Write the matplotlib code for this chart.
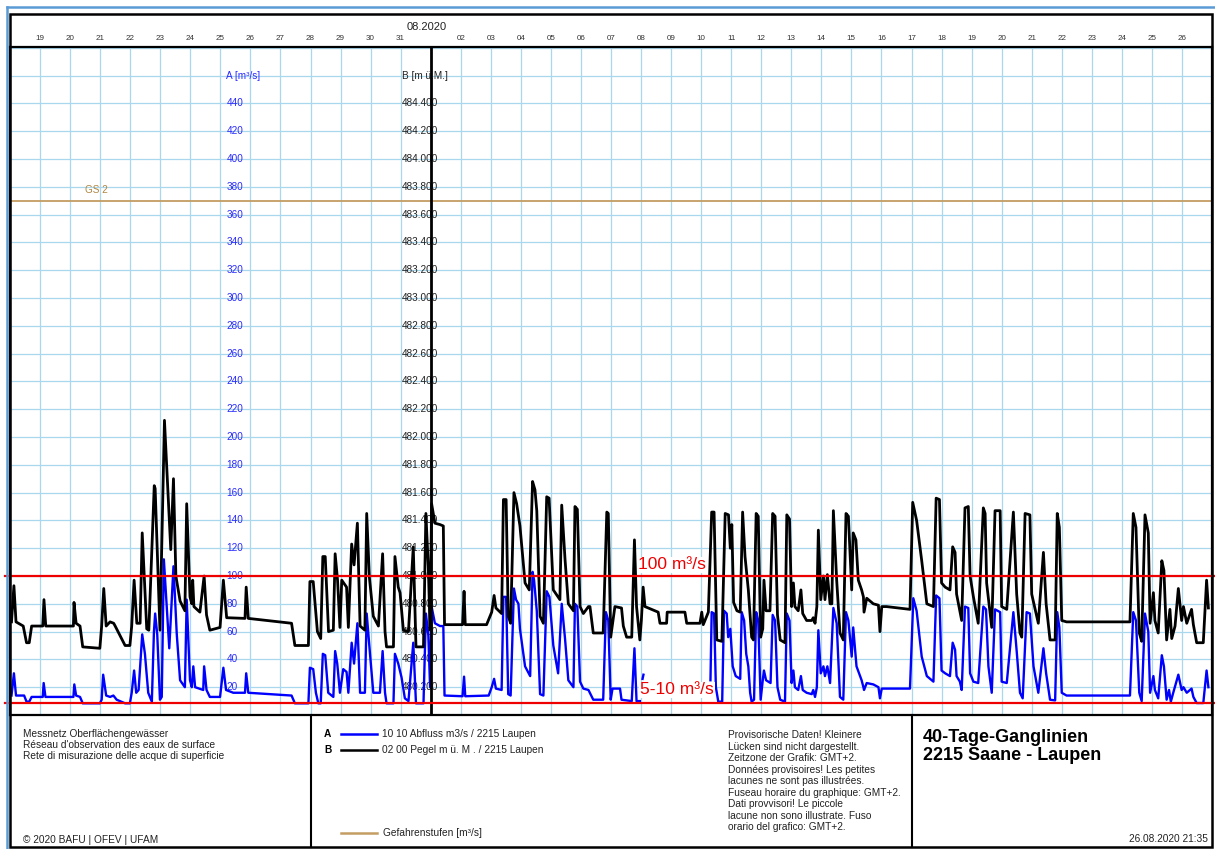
import matplotlib
matplotlib.use("Agg")
import matplotlib.pyplot as plt
import numpy as np
from matplotlib.lines import Line2D
from matplotlib.patches import Rectangle

plt.rcParams['font.family'] = ['Liberation Sans', 'DejaVu Sans']

# ---- data (time in days since 18.07.2020 00:00) ----
# A: Abfluss m3/s (blue)
a_day = [0.05, 0.13, 0.20, 0.47, 0.55, 0.64, 0.72, 1.09, 1.12, 1.18, 2.11, 2.14, 2.20, 2.33, 2.42,
         2.99, 3.05, 3.10, 3.20, 3.33, 3.44, 3.55, 3.83, 3.99, 4.05, 4.13, 4.20, 4.28, 4.40, 4.49,
         4.60, 4.72, 4.79, 4.83, 4.90, 4.99, 5.05, 5.12, 5.30, 5.44, 5.55, 5.66, 5.82, 5.88, 5.99,
         6.05, 6.10, 6.16, 6.43, 6.46, 6.54, 6.65, 6.99, 7.10, 7.19, 7.43, 7.82, 7.86, 7.93, 9.37,
         9.48, 9.93, 9.98, 10.09, 10.18, 10.26, 10.34, 10.41, 10.49, 10.59, 10.76, 10.82, 10.89,
         10.98, 11.09, 11.20, 11.26, 11.37, 11.45, 11.56, 11.65, 11.81, 11.87, 11.98, 12.09, 12.31,
         12.40, 12.48, 12.53, 12.76, 12.81, 12.92, 13.03, 13.14, 13.26, 13.42, 13.51, 13.76, 13.84,
         13.92, 13.98, 14.03, 14.14, 14.31, 14.42, 14.46, 15.06, 15.11, 15.15, 15.93, 16.03, 16.11,
         16.17, 16.36, 16.42, 16.51, 16.58, 16.66, 16.77, 16.84, 16.92, 16.97, 17.14, 17.31, 17.39,
         17.44, 17.53, 17.64, 17.75, 17.86, 17.95, 18.08, 18.24, 18.36, 18.47, 18.58, 18.75, 18.80,
         18.88, 18.97, 19.08, 19.25, 19.41, 19.74, 19.83, 19.91, 19.99, 20.05, 20.30, 20.35, 20.69,
         20.78, 20.85, 20.96, 21.00, 21.05, 21.08, 21.10,
         23.31, 23.35, 23.43, 23.49, 23.57, 23.70, 23.76, 23.85, 23.90, 23.97, 24.05, 24.15, 24.30,
         24.35, 24.43, 24.50, 24.57, 24.63, 24.68, 24.76, 24.83, 24.90, 24.98, 25.05, 25.09, 25.16,
         25.31, 25.38, 25.46, 25.54, 25.63, 25.79, 25.85, 25.94, 26.01, 26.07, 26.12, 26.23, 26.32,
         26.38, 26.51, 26.68, 26.73, 26.79, 26.85, 26.90, 26.98, 27.07, 27.12, 27.20, 27.29, 27.40,
         27.51, 27.62, 27.73, 27.82, 27.90, 28.01, 28.06, 28.17, 28.34, 28.40, 28.42, 28.51, 28.73,
         28.90, 28.95, 29.01, 29.17, 29.95, 30.06, 30.17, 30.34, 30.51, 30.73, 30.82, 30.93, 31.00,
         31.12, 31.28, 31.37, 31.45, 31.50, 31.61, 31.67, 31.78, 31.89, 31.95, 32.06, 32.22, 32.39,
         32.48, 32.56, 32.67, 32.78, 32.95, 33.00, 33.17, 33.39, 33.50, 33.61, 33.70, 33.83, 33.94,
         34.06, 34.22, 34.39, 34.48, 34.61, 34.78, 34.85, 34.92, 35.00, 35.16, 37.27, 37.38, 37.47,
         37.58, 37.66, 37.77, 37.88, 37.94, 38.05, 38.10, 38.21, 38.33, 38.40, 38.49, 38.57, 38.63,
         38.71, 38.88, 38.99, 39.05, 39.16, 39.32, 39.38, 39.49, 39.71, 39.82, 39.88]
a_flow = [14, 30, 14, 14, 9.6, 9.6, 13, 13, 23, 13, 13, 22, 14, 13, 8.4,
          8.4, 11, 29, 14, 13, 14, 11, 8.4, 8.4, 16, 32, 16, 18, 58, 44,
          16, 9.6, 60, 73, 58, 11, 13, 112, 48, 107, 58, 25, 20, 83, 25,
          20, 35, 20, 18, 35, 18, 13, 13, 34, 18, 16, 16, 30, 16, 14,
          8.4, 8.4, 34, 33, 16, 8.4, 8.4, 44, 43, 16, 13, 46, 37,
          16, 33, 31, 16, 52, 37, 66, 16, 16, 73, 44, 16, 16,
          46, 16, 8.4, 8.4, 44, 37, 27, 12, 10, 52, 8.4, 8.4, 73,
          58, 20, 78, 66, 64, 64, 14, 13.5, 27.6, 13.5, 14, 20, 26,
          19, 18, 85, 85, 15, 14, 91, 83, 80, 62, 35, 28, 103,
          97, 75, 15, 14, 89, 85, 50, 30, 80, 55, 25, 20, 80,
          78, 24, 19, 18, 11, 11, 74, 68, 11, 19, 19, 11, 10,
          48, 10, 10, np.nan, 26, 29, np.nan,
          25, 74, 73, 20, 9.6, 9.6, 75, 73, 56, 62, 35, 28, 26,
          74, 68, 44, 35, 16, 9.6, 11, 74, 68, 11, 25, 32, 25,
          23, 72, 68, 20, 11, 9.6, 73, 68, 23, 32, 20, 18, 28,
          18, 16, 15, 18, 13, 20, 61, 30, 35, 28, 35, 23, 77,
          66, 13, 11, 74, 68, 42, 63, 35, 25, 20, 18, 23, 22,
          20, 12, 19, 19, 19, 84, 75, 42, 28, 24, 86, 84, 32,
          30, 28, 52, 47, 28, 24, 18, 78, 77, 30, 24, 23, 78,
          76, 35, 16, 76, 74, 24, 23, 74, 46, 16, 12, 74, 73,
          35, 16, 48, 30, 11, 10.5, 74, 63, 16, 14, 14, 74, 68,
          16, 10, 73, 60, 16, 28, 18, 12, 43, 35, 11, 18, 9.6,
          16, 29, 18, 20, 16, 19, 13, 8.6, 8.6, 32, 20]

# B: Pegel m ue. M. (black)
b_day = [0.05, 0.13, 0.20, 0.44, 0.55, 0.64, 0.72, 1.09, 1.13, 1.19, 2.11, 2.13, 2.20, 2.33, 2.42,
         2.99, 3.05, 3.12, 3.20, 3.33, 3.45, 3.50, 3.83, 3.99, 4.05, 4.13, 4.22, 4.33, 4.40, 4.45,
         4.55, 4.62, 4.80, 4.83, 4.99, 5.14, 5.35, 5.44, 5.52, 5.66, 5.82, 5.88, 5.99, 6.05, 6.08,
         6.12, 6.32, 6.46, 6.54, 6.65, 6.99, 7.10, 7.21, 7.82, 7.86, 7.93, 9.37, 9.48, 9.93, 9.98,
         10.09, 10.23, 10.34, 10.41, 10.49, 10.60, 10.76, 10.82, 10.90, 10.98, 11.04, 11.20, 11.26,
         11.37, 11.45, 11.56, 11.65, 11.81, 11.87, 11.96, 12.09, 12.26, 12.40, 12.48, 12.53, 12.76,
         12.81, 12.92, 12.98, 13.09, 13.26, 13.42, 13.51, 13.76, 13.84, 13.92, 13.98, 14.03, 14.14,
         14.31, 14.42, 14.46, 15.06, 15.11, 15.15, 15.86, 16.03, 16.11, 16.17, 16.36, 16.42, 16.51,
         16.58, 16.66, 16.77, 16.86, 16.97, 17.14, 17.28, 17.39, 17.47, 17.53, 17.64, 17.75, 17.86,
         17.94, 18.08, 18.30, 18.36, 18.47, 18.58, 18.75, 18.80, 18.88, 18.97, 19.08, 19.25, 19.30,
         19.41, 19.74, 19.86, 19.91, 19.99, 20.13, 20.35, 20.41, 20.52, 20.69, 20.78, 20.85, 20.96,
         21.01, 21.07, 21.13, 21.57, 21.63, 21.85, 21.87, 22.46, 22.52, 22.96, 23.02, 23.07, 23.24,
         23.35, 23.43, 23.52, 23.69, 23.80, 23.91, 23.97, 24.02, 24.08, 24.19, 24.30, 24.38, 24.46,
         24.57, 24.68, 24.74, 24.83, 24.90, 24.98, 25.05, 25.09, 25.16, 25.29, 25.38, 25.46, 25.54,
         25.63, 25.79, 25.85, 25.94, 26.01, 26.07, 26.12, 26.23, 26.32, 26.38, 26.51, 26.68, 26.73,
         26.79, 26.85, 26.90, 26.98, 27.07, 27.12, 27.20, 27.29, 27.35, 27.40, 27.51, 27.62, 27.73,
         27.82, 27.90, 28.01, 28.06, 28.15, 28.23, 28.34, 28.40, 28.42, 28.51, 28.73, 28.90, 28.95,
         29.01, 29.17, 29.95, 30.04, 30.17, 30.34, 30.51, 30.73, 30.82, 30.93, 31.00, 31.12, 31.28,
         31.37, 31.45, 31.50, 31.67, 31.78, 31.89, 31.95, 32.06, 32.22, 32.39, 32.45, 32.50, 32.67,
         32.78, 32.95, 33.00, 33.17, 33.39, 33.50, 33.61, 33.67, 33.78, 33.94, 34.00, 34.22, 34.39,
         34.48, 34.61, 34.78, 34.85, 34.92, 35.00, 35.16, 37.27, 37.38, 37.47, 37.58, 37.66, 37.77,
         37.88, 37.94, 38.05, 38.10, 38.21, 38.33, 38.40, 38.49, 38.60, 38.66, 38.77, 38.88, 38.99,
         39.05, 39.16, 39.32, 39.38, 39.49, 39.71, 39.82, 39.88]
b_level = [480.67, 480.93, 480.67, 480.64, 480.52, 480.52, 480.64, 480.64, 480.83, 480.64, 480.64,
           480.81, 480.66, 480.64, 480.49, 480.48, 480.64, 480.91, 480.64, 480.67, 480.66, 480.64,
           480.50, 480.50, 480.64, 480.97, 480.66, 480.66, 481.31, 481.08, 480.62, 480.61, 481.65,
           481.63, 480.61, 482.12, 481.19, 481.70, 481.00, 480.82, 480.75, 481.52, 480.85, 480.80,
           480.97, 480.78, 480.74, 481.00, 480.72, 480.61, 480.63, 480.97, 480.70, 480.695, 480.92,
           480.695, 480.66, 480.50, 480.50, 480.96, 480.96, 480.60, 480.55, 481.14, 481.14, 480.60,
           480.61, 481.16, 480.97, 480.63, 480.97, 480.92, 480.63, 481.23, 481.08, 481.38, 480.64,
           480.61, 481.45, 480.99, 480.71, 480.64, 481.16, 480.60, 480.49, 480.49, 481.14, 480.92,
           480.88, 480.61, 480.60, 481.21, 480.49, 480.49, 481.45, 481.07, 480.61, 481.52, 481.38,
           481.37, 481.36, 480.65, 480.65, 480.89, 480.65, 480.65, 480.74, 480.86, 480.77, 480.73,
           481.55, 481.55, 480.71, 480.66, 481.60, 481.52, 481.36, 480.95, 480.90, 481.68, 481.62,
           481.47, 480.71, 480.66, 481.57, 481.56, 480.90, 480.83, 481.51, 481.12, 480.80, 480.75,
           481.50, 481.48, 480.78, 480.73, 480.78, 480.78, 480.59, 480.59, 481.46, 481.45, 480.56,
           480.78, 480.77, 480.64, 480.56, 480.56, 481.26, 480.78, 480.54, 480.68, 480.92, 480.78,
           480.74, 480.66, 480.66, 480.74, 480.74, 480.66, 480.66, 480.74, 480.65, 480.74, 481.46,
           481.46, 480.54, 480.53, 481.45, 481.44, 481.20, 481.37, 480.81, 480.75, 480.74, 481.46,
           481.14, 480.90, 480.56, 480.54, 481.45, 481.43, 480.56, 480.62, 480.97, 480.75, 480.75,
           481.45, 481.43, 480.72, 480.54, 480.52, 481.44, 481.41, 480.78, 480.95, 480.78, 480.75,
           480.90, 480.73, 480.68, 480.68, 480.70, 480.66, 480.78, 481.33, 480.83, 481.00, 480.83,
           481.01, 480.80, 480.80, 481.47, 480.97, 480.59, 480.54, 481.45, 481.43, 480.90, 481.31,
           481.26, 480.97, 480.90, 480.85, 480.74, 480.84, 480.80, 480.79, 480.60, 480.78, 480.78,
           480.76, 481.53, 481.40, 481.11, 480.80, 480.78, 481.56, 481.55, 480.95, 480.92, 480.90,
           481.21, 481.17, 480.87, 480.68, 481.49, 481.50, 481.00, 480.85, 480.66, 481.49, 481.45,
           480.95, 480.63, 481.47, 481.47, 480.78, 480.76, 481.46, 480.87, 480.59, 480.56, 481.45,
           481.44, 480.87, 480.66, 481.17, 480.80, 480.54, 480.54, 481.45, 481.35, 480.68, 480.67,
           480.67, 481.45, 481.35, 480.59, 480.53, 481.44, 481.31, 480.66, 480.88, 480.68, 480.59,
           481.11, 481.04, 480.54, 480.76, 480.55, 480.64, 480.91, 480.68, 480.78, 480.66, 480.76,
           480.65, 480.52, 480.52, 480.97, 480.77]

day_labels = ["19", "20", "21", "22", "23", "24", "25", "26", "27", "28", "29", "30", "31", "",
              "02", "03", "04", "05", "06", "07", "08", "09", "10", "11", "12", "13", "14", "15",
              "16", "17", "18", "19", "20", "21", "22", "23", "24", "25", "26"]
a_ticks = list(range(20, 460, 20))
gs2_level = 370
red_marks = [100, 8.6]

W, H = 1215, 849
A_TOP = 480.6


def fx(px):
    return px / W


def fy(py):
    return 1 - py / H


fig = plt.figure(figsize=(W / 100, H / 100), dpi=100)
fig.patch.set_facecolor("white")

rect = [fx(10), fy(715), fx(1212) - fx(10), fy(47) - fy(715)]
ax = fig.add_axes(rect)
ax.set_xlim(0, 40)
ax.set_ylim(0, A_TOP)
ax.set_xticks([])
ax.set_yticks([])
for s in ax.spines.values():
    s.set_linewidth(1.6)

# Gitter
grid_col = "#a9d8ee"
for v in range(20, 481, 20):
    ax.axhline(v, color=grid_col, lw=0.9, zorder=0.5)
for k in range(1, 40):
    if day_labels[k - 1] == "":
        ax.axvline(k, color="black", lw=2.0, zorder=2.5)  # Monatswechsel
    else:
        ax.axvline(k, color=grid_col, lw=0.9, zorder=0.5)

# Achsenbeschriftung im Diagramm
for v in a_ticks:
    ax.text(7.2, v, str(v), color="#2a2aff", fontsize=7.2, va="center", ha="left", zorder=1)
    ax.text(13.05, v, "%.3f" % (480 + v / 100), color="#222222", fontsize=7.2,
            va="center", ha="left", zorder=1)
ax.text(7.2, 460, "A [m³/s]", color="#2a2aff", fontsize=7.2, va="center", ha="left", zorder=1)
ax.text(13.05, 460, "B [m ü.M.]", color="#222222", fontsize=7.2, va="center", ha="left", zorder=1)

# Gefahrenstufe
gs_col = "#c49d62"
ax.axhline(gs2_level, color=gs_col, lw=1.3, zorder=1.5)
ax.text(2.5, gs2_level + 8, "GS 2", color="#b08640", fontsize=7.2, ha="left", va="center")

ax.plot(a_day, a_flow, color="#0000ff", lw=1.7, zorder=2, solid_joinstyle="round")

ax2 = ax.twinx()
ax2.set_ylim(480, 480 + A_TOP / 100)
ax2.set_yticks([])
for s in ax2.spines.values():
    s.set_visible(False)
ax2.plot(b_day, b_level, color="black", lw=2.0, solid_joinstyle="round")

# rote Markierungen obendrauf
ax3 = fig.add_axes(rect, sharex=ax, sharey=ax)
ax3.axis("off")
ax3.patch.set_visible(False)
for v in red_marks:
    ax3.axhline(v, xmin=-0.004, xmax=1.003, color="#ee0000", lw=1.6, clip_on=False)
ax3.text(20.9, 108, "100 m³/s", color="#ee0000", fontsize=12.5, ha="left", va="center",
         bbox=dict(facecolor="white", edgecolor="none", pad=0.5))
ax3.text(20.97, 18, "5-10 m³/s", color="#ee0000", fontsize=12.5, ha="left", va="center",
         bbox=dict(facecolor="white", edgecolor="none", pad=0.5))

# Kopfzeile mit Tagen
hdr = ax.get_xaxis_transform()
for k, lab in enumerate(day_labels, start=1):
    if lab:
        ax.text(k, 1 + 8 / 668, lab, transform=hdr, fontsize=5.8, color="#333333",
                ha="center", va="center", clip_on=False)
ax.text(13.85, 1 + 20 / 668, "08.2020", transform=hdr, fontsize=8, color="#222222",
        ha="center", va="center", clip_on=False)

# Rahmen
fig.add_artist(Rectangle((fx(10), fy(847)), fx(1212) - fx(10), fy(14) - fy(847),
                         transform=fig.transFigure, fill=False, lw=1.8, edgecolor="black"))
fig.add_artist(Line2D([fx(7), fx(7)], [fy(7), 0], transform=fig.transFigure,
                      color="#5b9bd5", lw=1.8))
fig.add_artist(Line2D([fx(7), 1], [fy(7), fy(7)], transform=fig.transFigure,
                      color="#5b9bd5", lw=1.8))
for xp in (311, 912):
    fig.add_artist(Line2D([fx(xp), fx(xp)], [fy(715), fy(847)], transform=fig.transFigure,
                          color="black", lw=1.5))

# Fusszeile
fs = 7.3
left_lines = ["Messnetz Oberflächengewässer",
              "Réseau d'observation des eaux de surface",
              "Rete di misurazione delle acque di superficie"]
for i, t in enumerate(left_lines):
    fig.text(fx(23), fy(734 + i * 10.8), t, fontsize=fs, va="center", color="#222222")
fig.text(fx(23), fy(840), "© 2020 BAFU | OFEV | UFAM", fontsize=fs, va="center", color="#222222")

legend_rows = [("A", "#0000ff", "10 10 Abfluss m3/s / 2215 Laupen", 734),
               ("B", "black", "02 00 Pegel m ü. M . / 2215 Laupen", 750)]
for lab, col, txt, yp in legend_rows:
    fig.text(fx(324), fy(yp), lab, fontsize=fs, fontweight="bold", va="center")
    fig.add_artist(Line2D([fx(341), fx(377)], [fy(yp), fy(yp)], transform=fig.transFigure,
                          color=col, lw=1.8))
    fig.text(fx(382), fy(yp), txt, fontsize=fs, va="center", color="#222222")
fig.add_artist(Line2D([fx(341), fx(377)], [fy(833), fy(833)], transform=fig.transFigure,
                      color=gs_col, lw=1.8))
fig.text(fx(383), fy(833), "Gefahrenstufen [m³/s]", fontsize=fs, va="center", color="#222222")

note_lines = ["Provisorische Daten! Kleinere",
              "Lücken sind nicht dargestellt.",
              "Zeitzone der Grafik: GMT+2.",
              "Données provisoires! Les petites",
              "lacunes ne sont pas illustrées.",
              "Fuseau horaire du graphique: GMT+2.",
              "Dati provvisori! Le piccole",
              "lacune non sono illustrate. Fuso",
              "orario del grafico: GMT+2."]
for i, t in enumerate(note_lines):
    fig.text(fx(728), fy(735 + i * 11.55), t, fontsize=fs, va="center", color="#222222")

fig.text(fx(923), fy(737), "40-Tage-Ganglinien", fontsize=13, fontweight="bold", va="center")
fig.text(fx(923), fy(756), "2215 Saane - Laupen", fontsize=13, fontweight="bold", va="center")
fig.text(fx(1208), fy(839), "26.08.2020 21:35", fontsize=fs, va="center", ha="right",
         color="#222222")

fig.savefig("out.png", dpi=100, facecolor="white")
